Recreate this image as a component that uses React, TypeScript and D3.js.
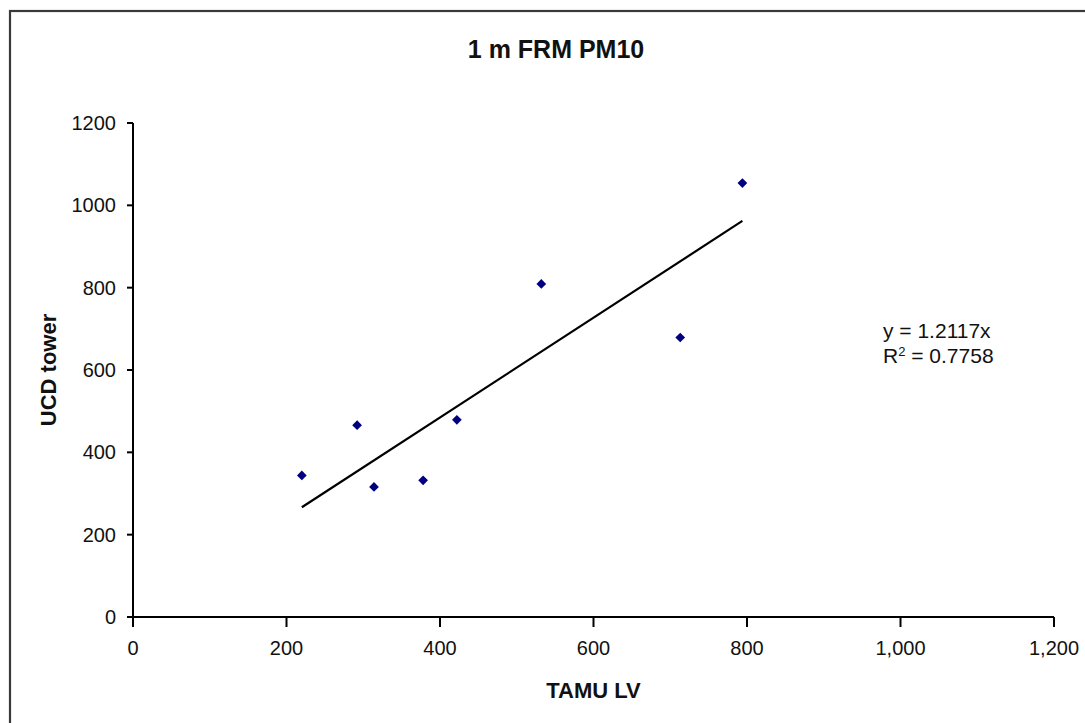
import React from "react";
import * as d3 from "d3";

const tamuLV = [220, 292, 314, 378, 422, 532, 713, 794];
const ucdTower = [344, 466, 316, 332, 479, 809, 679, 1054];
const xTicks = [0, 200, 400, 600, 800, 1000, 1200];
const yTicks = [0, 200, 400, 600, 800, 1000, 1200];
const slope = 1.2117;
const r2 = "0.7758";
const title = "1 m FRM PM10";
const xTitle = "TAMU LV";
const yTitle = "UCD tower";

const W = 1085;
const H = 723;

export default function App() {
  const x = d3.scaleLinear().domain([0, 1200]).range([133, 1054]);
  const y = d3.scaleLinear().domain([0, 1200]).range([617, 123]);
  const fmtX = d3.format(",");
  const pts = tamuLV.map((v, i) => [v, ucdTower[i]] as [number, number]);
  const xMin = d3.min(tamuLV) as number;
  const xMax = d3.max(tamuLV) as number;
  const line = d3.line<[number, number]>().x((d) => x(d[0])).y((d) => y(d[1]));
  const trend = line([[xMin, slope * xMin], [xMax, slope * xMax]]) || "";
  const diamond = d3.symbol().type(d3.symbolDiamond2).size(60)() || "";
  const font = "'Liberation Sans', Arial, sans-serif";

  return (
    <svg width={W} height={H} style={{ position: "absolute", left: 0, top: 0, background: "#fff" }} fontFamily={font}>
      <rect x={0} y={0} width={W} height={H} fill="#fff" />
      <rect x={10} y={11} width={1100} height={800} fill="none" stroke="#3a3a3a" strokeWidth={2.2} />
      <text x={556} y={58} textAnchor="middle" fontSize={25} fontWeight="bold" fill="#111">{title}</text>
      {/* y axis */}
      <line x1={x(0)} x2={x(0)} y1={y(1200)} y2={y(0) + 10} stroke="#000" strokeWidth={2} />
      {yTicks.map((t) => (
        <g key={"y" + t}>
          <line x1={x(0) - 6} x2={x(0)} y1={y(t)} y2={y(t)} stroke="#000" strokeWidth={2} />
          <text x={116} y={y(t) + 7} textAnchor="end" fontSize={20} fill="#111">{t}</text>
        </g>
      ))}
      {/* x axis */}
      <line x1={x(0) - 6} x2={x(1200)} y1={y(0)} y2={y(0)} stroke="#000" strokeWidth={2} />
      {xTicks.map((t) => (
        <g key={"x" + t}>
          <line x1={x(t)} x2={x(t)} y1={y(0)} y2={y(0) + 10} stroke="#000" strokeWidth={2} />
          <text x={x(t)} y={655} textAnchor="middle" fontSize={20} fill="#111">{fmtX(t)}</text>
        </g>
      ))}
      <text x={(x(0) + x(1200)) / 2} y={698} textAnchor="middle" fontSize={22} fontWeight="bold" fill="#111">{xTitle}</text>
      <text transform={`translate(56,${(y(0) + y(1200)) / 2}) rotate(-90)`} textAnchor="middle" fontSize={22} fontWeight="bold" fill="#111">{yTitle}</text>
      <path d={trend} stroke="#000" strokeWidth={2.2} fill="none" />
      {pts.map((p, i) => (
        <path key={i} d={diamond} transform={`translate(${x(p[0])},${y(p[1])})`} fill="#000080" />
      ))}
      <text x={883} y={338} fontSize={21} fill="#111">y = {slope}x</text>
      <text x={883} y={363} fontSize={21} fill="#111">
        R<tspan dy={-7} fontSize={13}>2</tspan><tspan dy={7}> = {r2}</tspan>
      </text>
    </svg>
  );
}
